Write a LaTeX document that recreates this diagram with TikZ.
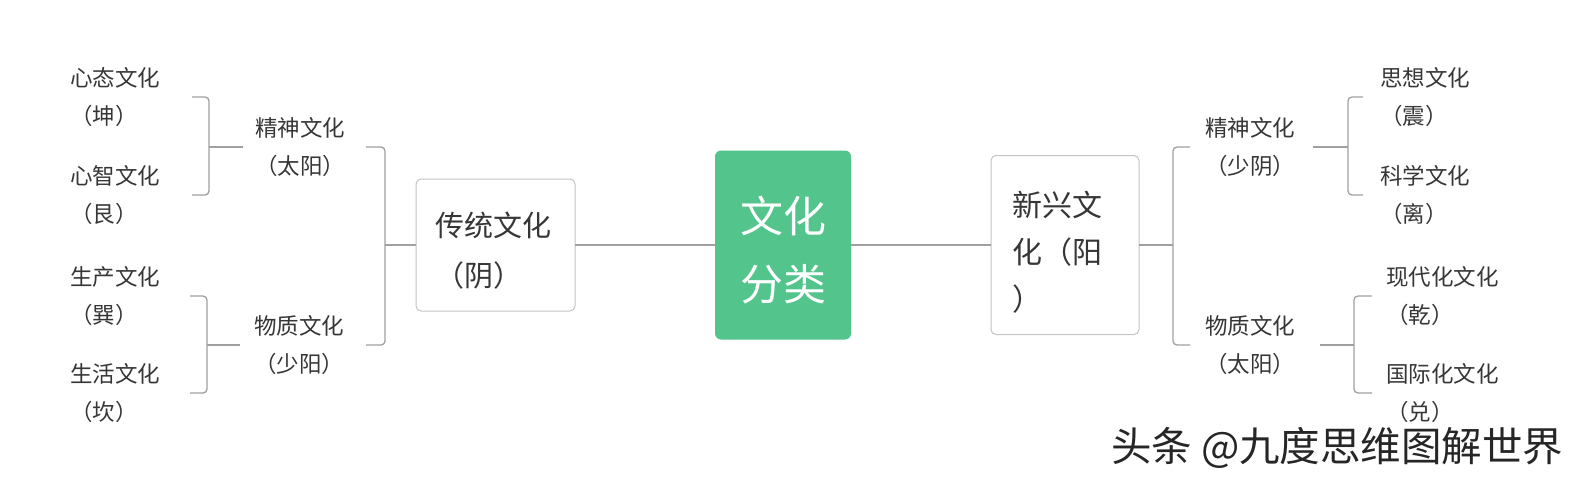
\documentclass[tikz,border=0pt]{standalone}
\usepackage{fontspec}
\setmainfont{Noto Sans CJK SC}
\usetikzlibrary{calc}
\definecolor{topicgreen}{HTML}{52C48C}
\definecolor{txtgray}{HTML}{363636}
\definecolor{linegray}{HTML}{A0A0A0}
\definecolor{boxgray}{HTML}{C4C4C4}

\begin{document}
\begin{tikzpicture}[x=1pt, y=-1pt,
    every node/.style={inner sep=0pt, outer sep=0pt, text=txtgray},
    link/.style={draw=linegray, line width=1.3pt},
    bracket/.style={link, rounded corners=4pt},
    leaf/.style={anchor=west, align=left, font=\fontsize{22.5}{38}\selectfont,
                 execute at begin node=\rule{0pt}{25pt}},
    branch/.style={leaf},
    topic/.style={draw=boxgray, line width=1pt, rounded corners=5pt, fill=white, align=left}]
    \useasboundingbox (0,0) rectangle (1577,488);

    % Centre
    \node[fill=topicgreen, rounded corners=6pt, text=white, align=center, minimum width=136pt, minimum height=189pt,
          font=\fontsize{43}{68}\selectfont] (root) at (783,245) {\rule{0pt}{46pt}文化\\分类};
    \node[topic, text width=121pt, inner xsep=19pt, minimum height=132pt,
          font=\fontsize{29}{50}\selectfont] (ct) at (495.5,245) {\rule{0pt}{36pt}传统文化\\（阴）};
    \node[topic, text width=106pt, inner xsep=21pt, minimum height=179pt,
          font=\fontsize{30}{47}\selectfont] (xx) at (1065,245) {\rule{0pt}{39pt}新兴文\\化（阳\\）};
    \draw[link] (ct) -- (root);
    \draw[link] (root) -- (xx);

    % Left side
    \node[branch] (jsA) at (255,147) {精神文化\\（太阳）};
    \node[branch] (wzA) at (254,345) {物质文化\\（少阳）};
    \node[leaf] (xt) at (70,97) {心态文化\\（坤）};
    \node[leaf] (xz) at (70,195) {心智文化\\（艮）};
    \node[leaf] (sc) at (70,296) {生产文化\\（巽）};
    \node[leaf] (sh) at (70,393) {生活文化\\（坎）};
    \coordinate (ctj) at (385,245);
    \coordinate (jbA) at (209,147);
    \coordinate (jbD) at (207,345);
    \draw[link] (ct.west) -- (ctj);
    \draw[bracket] ($(ctj |- jsA)+(-19,0)$) -| (ctj) |- ($(ctj |- wzA)+(-19,0)$);
    \draw[link] ($(jsA.west)+(-12,0)$) -- (jbA);
    \draw[bracket] ($(jbA |- xt)+(-17,0)$) -| (jbA) |- ($(jbA |- xz)+(-17,0)$);
    \draw[link] ($(wzA.west)+(-14,0)$) -- (jbD);
    \draw[bracket] ($(jbD |- sc)+(-17,0)$) -| (jbD) |- ($(jbD |- sh)+(-17,0)$);

    % Right side
    \node[branch] (jsB) at (1205,147) {精神文化\\（少阴）};
    \node[branch] (wzB) at (1205,345) {物质文化\\（太阳）};
    \node[leaf] (sx) at (1380,97) {思想文化\\（震）};
    \node[leaf] (kx) at (1380,195) {科学文化\\（离）};
    \node[leaf] (xd) at (1386,296) {现代化文化\\（乾）};
    \node[leaf] (gj) at (1386,393) {国际化文化\\（兑）};
    \coordinate (xxj) at (1173,245);
    \coordinate (jbB) at (1348,147);
    \coordinate (jbC) at (1354,345);
    \draw[link] (xx.east) -- (xxj);
    \draw[bracket] ($(xxj |- jsB)+(17,0)$) -| (xxj) |- ($(xxj |- wzB)+(17,0)$);
    \draw[link] ($(jsB.east)+(18,0)$) -- (jbB);
    \draw[bracket] ($(jbB |- sx)+(15,0)$) -| (jbB) |- ($(jbB |- kx)+(15,0)$);
    \draw[link] ($(wzB.east)+(25,0)$) -- (jbC);
    \draw[bracket] ($(jbC |- xd)+(18,0)$) -| (jbC) |- ($(jbC |- gj)+(18,0)$);

    % Watermark
    \node[anchor=west, text=black!85, font=\fontsize{40.5}{40.5}\selectfont] (mark) at (1111,448) {头条 @九度思维图解世界};

\end{tikzpicture}
\end{document}
